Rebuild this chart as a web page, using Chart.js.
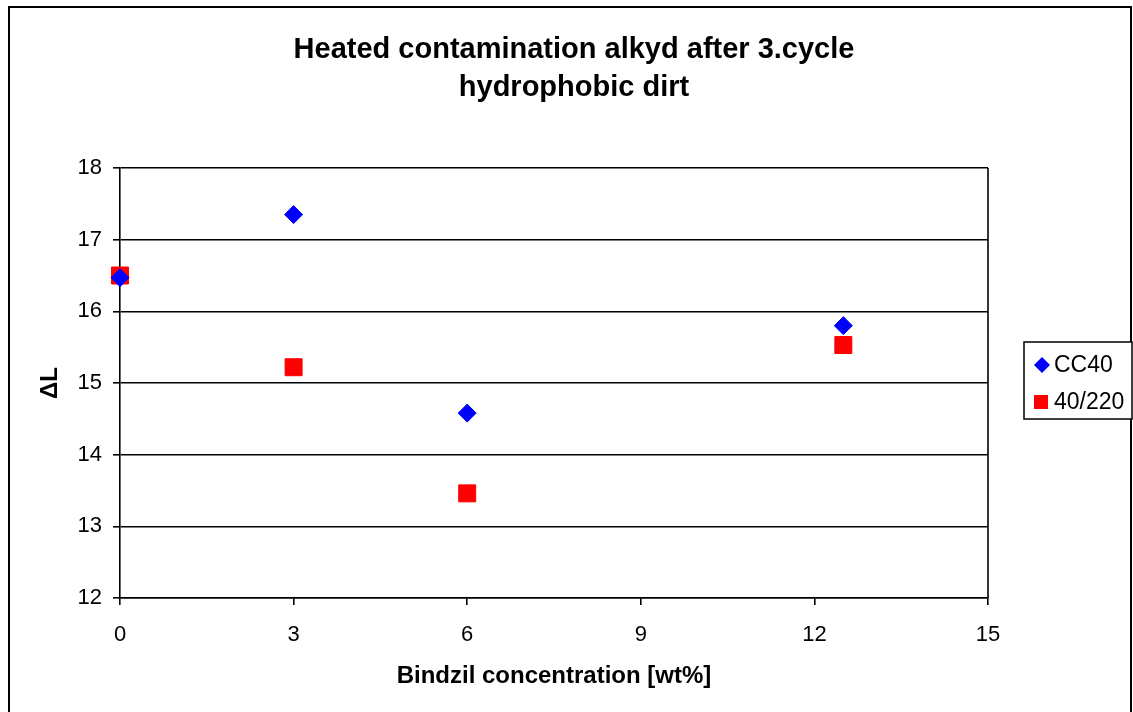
<!DOCTYPE html>
<html>
<head>
<meta charset="utf-8">
<script src="https://cdn.jsdelivr.net/npm/chart.js@4"></script>
<style>
  html, body { margin: 0; padding: 0; background: #fff; }
  #wrap { width: 1133px; height: 712px; }
</style>
</head>
<body>
<div id="wrap"><canvas id="chart" width="1133" height="712"></canvas></div>
<script>
// values
const titleLines = ['Heated contamination alkyd after 3.cycle', 'hydrophobic dirt'];
const seriesNames = ['CC40', '40/220'];
const xCC40 = [0, 3, 6, 12.5];
const yCC40 = [16.47, 17.35, 14.58, 15.8];
const x40220 = [0, 3, 6, 12.5];
const y40220 = [16.5, 15.22, 13.46, 15.53];
const xTicks = [0, 3, 6, 9, 12, 15];
const yTicks = [12, 13, 14, 15, 16, 17, 18];

const FONT = '"Liberation Sans", Arial, sans-serif';

function toPoints(xs, ys) {
    return xs.map((x, i) => ({ x: x, y: ys[i] }));
}

// outer frame, title, right plot border and the boxed legend
const framePlugin = {
    id: 'frame',
    beforeDraw(chart) {
        const ctx = chart.ctx;
        ctx.save();
        ctx.fillStyle = '#fff';
        ctx.fillRect(0, 0, chart.width, chart.height);
        ctx.strokeStyle = '#000';
        ctx.lineWidth = 2;
        ctx.strokeRect(9, 7, 1122, 800);
        // title, centred on the whole chart object like the original
        ctx.fillStyle = '#000';
        ctx.font = 'bold 29px ' + FONT;
        ctx.textAlign = 'center';
        ctx.textBaseline = 'middle';
        titleLines.forEach((t, i) => ctx.fillText(t, 574, 50 + i * 38));
        ctx.restore();
    },
    beforeDatasetsDraw(chart) {
        const ctx = chart.ctx;
        const a = chart.chartArea;
        ctx.save();
        ctx.strokeStyle = '#000';
        ctx.lineWidth = 1.6;
        ctx.beginPath();
        ctx.moveTo(a.right, a.top);
        ctx.lineTo(a.right, a.bottom);
        ctx.stroke();
        ctx.restore();
    },
    afterDraw(chart) {
        const ctx = chart.ctx;
        ctx.save();
        ctx.fillStyle = '#fff';
        ctx.fillRect(1024, 342, 108, 77);
        ctx.strokeStyle = '#000';
        ctx.lineWidth = 1.5;
        ctx.strokeRect(1024, 342, 108, 77);
        ctx.font = '23px ' + FONT;
        ctx.textBaseline = 'middle';
        ctx.textAlign = 'left';
        chart.data.datasets.forEach((ds, i) => {
            const cy = 365 + i * 37;
            ctx.fillStyle = ds.backgroundColor;
            ctx.beginPath();
            if (ds.pointStyle === 'rectRot') {
                const r = 8;
                ctx.moveTo(1042, cy - r);
                ctx.lineTo(1042 + r, cy);
                ctx.lineTo(1042, cy + r);
                ctx.lineTo(1042 - r, cy);
                ctx.closePath();
            } else {
                ctx.rect(1034, cy - 7, 14, 14);
            }
            ctx.fill();
            ctx.fillStyle = '#000';
            ctx.fillText(ds.label, 1054, cy + 1);
        });
        ctx.restore();
    }
};

new Chart(document.getElementById('chart'), {
    type: 'scatter',
    data: {
        datasets: [
            {
                label: seriesNames[0],
                data: toPoints(xCC40, yCC40),
                pointStyle: 'rectRot',
                pointRadius: 9,
                pointHoverRadius: 9,
                backgroundColor: '#0000ff',
                borderColor: '#0000ff',
                borderWidth: 1,
                clip: false
            },
            {
                label: seriesNames[1],
                data: toPoints(x40220, y40220),
                pointStyle: 'rect',
                pointRadius: 12,
                pointHoverRadius: 12,
                backgroundColor: '#ff0000',
                borderColor: '#ff0000',
                borderWidth: 1,
                clip: false
            }
        ]
    },
    options: {
        responsive: false,
        animation: false,
        events: [],
        layout: { padding: { left: 10, right: 145, top: 168, bottom: 0 } },
        plugins: {
            legend: { display: false },
            tooltip: { enabled: false },
            title: { display: false }
        },
        scales: {
            x: {
                type: 'linear',
                min: 0,
                max: 15,
                afterBuildTicks(scale) {
                    scale.ticks = xTicks.map(v => ({ value: v }));
                },
                afterFit(scale) { scale.height = 114; },
                ticks: {
                    color: '#000',
                    font: { family: FONT, size: 22 },
                    padding: 17,
                    maxRotation: 0
                },
                grid: {
                    drawOnChartArea: false,
                    drawTicks: true,
                    tickLength: 7,
                    color: '#000',
                    lineWidth: 1.6
                },
                border: { display: true, color: '#000', width: 1.6 },
                title: {
                    display: true,
                    text: 'Bindzil concentration [wt%]',
                    color: '#000',
                    font: { family: FONT, size: 24, weight: 'bold' },
                    padding: { top: 0, bottom: 21 }
                }
            },
            y: {
                type: 'linear',
                min: 12,
                max: 18,
                afterBuildTicks(scale) {
                    scale.ticks = yTicks.map(v => ({ value: v }));
                },
                afterFit(scale) { scale.width = 110; },
                ticks: {
                    color: '#000',
                    font: { family: FONT, size: 22 },
                    padding: 11
                },
                grid: {
                    drawOnChartArea: true,
                    drawTicks: true,
                    tickLength: 7,
                    color: '#000',
                    lineWidth: 1.6
                },
                border: { display: true, color: '#000', width: 1.6 },
                title: {
                    display: true,
                    text: 'ΔL',
                    color: '#000',
                    font: { family: FONT, size: 24, weight: 'bold' },
                    padding: { top: 26, bottom: 0 }
                }
            }
        }
    },
    plugins: [framePlugin]
});
</script>
</body>
</html>
